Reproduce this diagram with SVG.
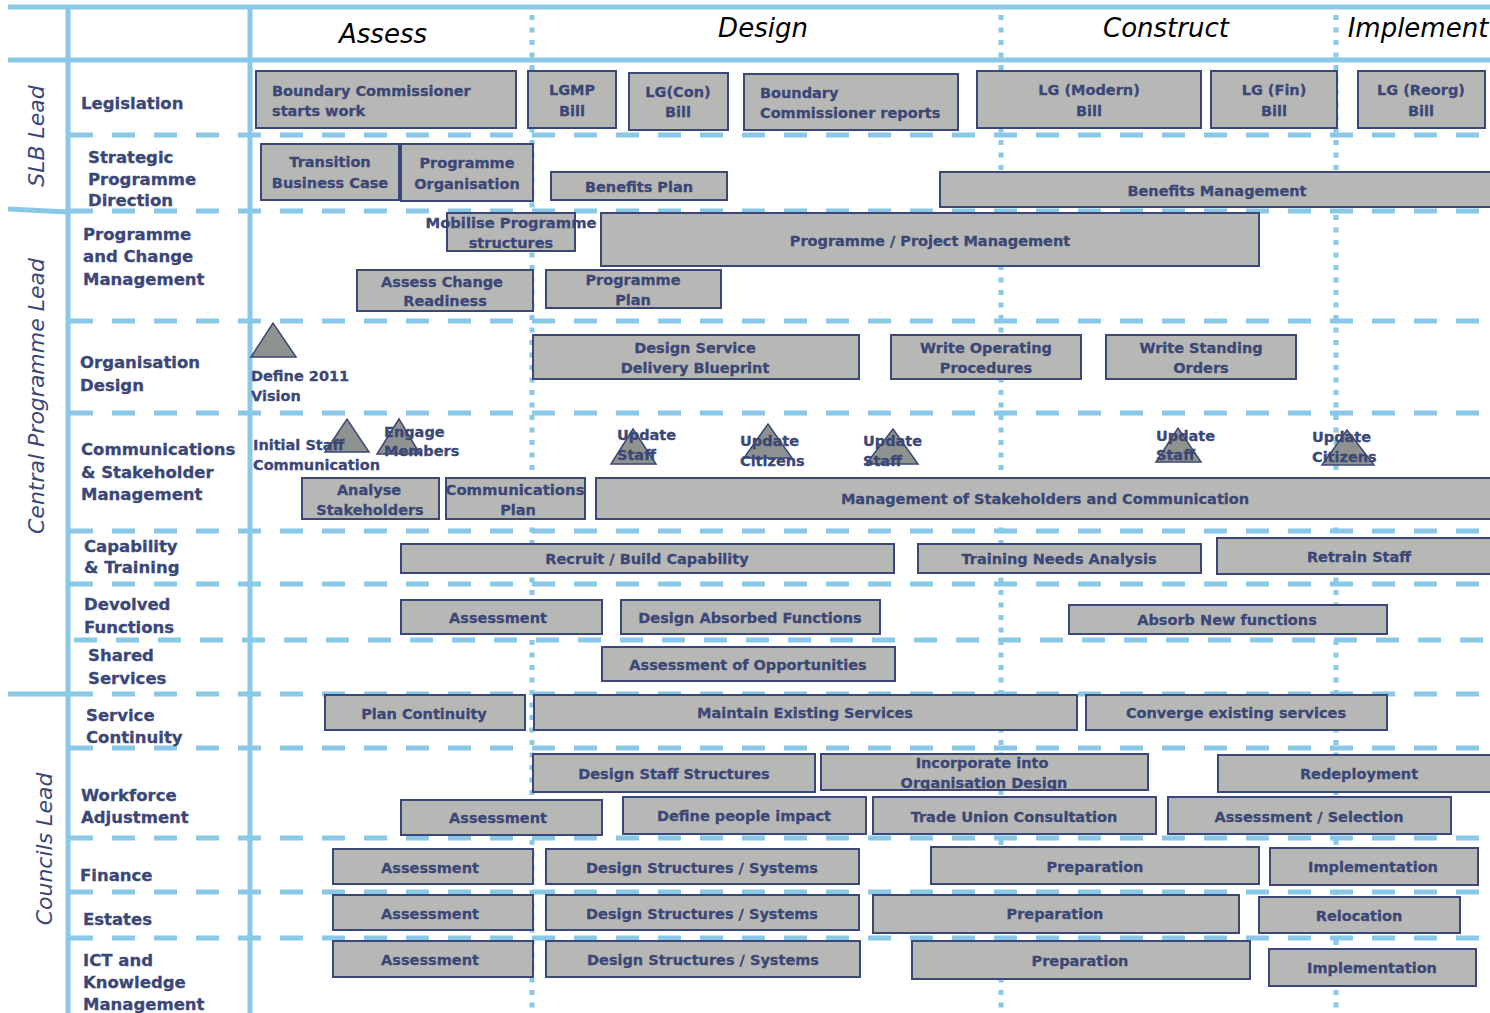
<svg xmlns="http://www.w3.org/2000/svg" width="1490" height="1013" viewBox="0 0 1490 1013">
<style>
  .solid{stroke:#89C8E6;stroke-width:5;fill:none}
  .dash{stroke:#89C8E6;stroke-width:5;fill:none;stroke-dasharray:23 19}
  .dot{stroke:#89C8E6;stroke-width:5;fill:none;stroke-dasharray:5 7.5}
  .box{fill:#B7B8B5;stroke:#3B4777;stroke-width:2}
  .tri{fill:#8F938F;stroke:#3B4777;stroke-width:1.5}
  .bt{font-family:"DejaVu Sans",Verdana,sans-serif;font-weight:bold;font-size:14.5px;fill:#3B4777;stroke:#3B4777;stroke-width:0.3;text-anchor:middle}
  .bl{text-anchor:start}
  .rl{font-family:"DejaVu Sans",Verdana,sans-serif;font-weight:bold;font-size:16.5px;fill:#3B4777;stroke:#3B4777;stroke-width:0.3}
  .ph{font-family:"DejaVu Sans",Verdana,sans-serif;font-style:italic;font-size:26px;fill:#000;text-anchor:middle}
  .gl{font-family:"DejaVu Sans",Verdana,sans-serif;font-style:italic;font-size:22px;fill:#3B4777;text-anchor:middle}
</style>
<rect width="1490" height="1013" fill="#fff"/>

<!-- grid: lanes and phases -->
<g id="grid">
  <line class="dash" x1="70" y1="135" x2="1490" y2="135"/>
  <line class="dash" x1="70" y1="211" x2="1490" y2="211"/>
  <line class="dash" x1="70" y1="321" x2="1490" y2="321"/>
  <line class="dash" x1="70" y1="413" x2="1490" y2="413"/>
  <line class="dash" x1="70" y1="531" x2="1490" y2="531"/>
  <line class="dash" x1="70" y1="584" x2="1490" y2="584"/>
  <line class="dash" x1="74" y1="640" x2="1490" y2="640"/>
  <line class="dash" x1="70" y1="694" x2="1490" y2="694"/>
  <line class="dash" x1="70" y1="748" x2="1490" y2="748"/>
  <line class="dash" x1="70" y1="838" x2="1490" y2="838"/>
  <line class="dash" x1="70" y1="892" x2="1490" y2="892"/>
  <line class="dash" x1="70" y1="938" x2="1490" y2="938"/>
  <line class="dot" x1="532" y1="15" x2="532" y2="1013"/>
  <line class="dot" x1="1001" y1="15" x2="1001" y2="1013"/>
  <line class="dot" x1="1336" y1="15" x2="1336" y2="1013"/>
  <line class="solid" x1="8" y1="7" x2="1490" y2="7"/>
  <line class="solid" x1="8" y1="60" x2="1490" y2="60"/>
  <line class="solid" x1="68" y1="5" x2="68" y2="1013"/>
  <line class="solid" x1="250" y1="5" x2="250" y2="1013"/>
  <line class="solid" x1="8" y1="209" x2="68" y2="212"/>
  <line class="solid" x1="8" y1="694" x2="68" y2="694"/>
</g>

<!-- phase headings -->
<g id="phases">
  <text class="ph" x="383" y="43">Assess</text>
  <text class="ph" x="763" y="37">Design</text>
  <text class="ph" x="1166" y="37">Construct</text>
  <text class="ph" x="1418" y="37">Implement</text>
</g>

<!-- lead groups -->
<g id="leads">
  <text class="gl" transform="translate(44,136) rotate(-90)">SLB Lead</text>
  <text class="gl" transform="translate(44,396) rotate(-90)">Central Programme Lead</text>
  <text class="gl" transform="translate(52,849) rotate(-90)">Councils Lead</text>
</g>

<!-- lane labels -->
<g id="lanes">
  <text class="rl" x="81" y="109">Legislation</text>
  <text class="rl" x="88" y="163">Strategic<tspan x="88" y="185">Programme</tspan><tspan x="88" y="206">Direction</tspan></text>
  <text class="rl" x="83" y="240">Programme<tspan x="83" y="262">and Change</tspan><tspan x="83" y="285">Management</tspan></text>
  <text class="rl" x="80" y="368">Organisation<tspan x="80" y="391">Design</tspan></text>
  <text class="rl" x="81" y="455">Communications<tspan x="81" y="478">&amp; Stakeholder</tspan><tspan x="81" y="500">Management</tspan></text>
  <text class="rl" x="84" y="552">Capability<tspan x="84" y="573">&amp; Training</tspan></text>
  <text class="rl" x="84" y="610">Devolved<tspan x="84" y="633">Functions</tspan></text>
  <text class="rl" x="88" y="661">Shared<tspan x="88" y="684">Services</tspan></text>
  <text class="rl" x="86" y="721">Service<tspan x="86" y="743">Continuity</tspan></text>
  <text class="rl" x="81" y="801">Workforce<tspan x="81" y="823">Adjustment</tspan></text>
  <text class="rl" x="80" y="881">Finance</text>
  <text class="rl" x="83" y="925">Estates</text>
  <text class="rl" x="83" y="966">ICT and<tspan x="83" y="988">Knowledge</tspan><tspan x="83" y="1010">Management</tspan></text>
</g>

<!-- Legislation -->
<g id="n-bc-starts"><rect class="box" x="256" y="71" width="260" height="57"/><text class="bt bl" x="272" y="96">Boundary Commissioner<tspan x="272" y="116">starts work</tspan></text></g>
<g id="n-lgmp"><rect class="box" x="528" y="71" width="88" height="57"/><text class="bt" x="572" y="95">LGMP<tspan x="572" y="116">Bill</tspan></text></g>
<g id="n-lgcon"><rect class="box" x="629" y="73" width="99" height="57"/><text class="bt" x="678" y="97">LG(Con)<tspan x="678" y="117">Bill</tspan></text></g>
<g id="n-bc-reports"><rect class="box" x="744" y="74" width="214" height="56"/><text class="bt bl" x="760" y="98">Boundary<tspan x="760" y="118">Commissioner reports</tspan></text></g>
<g id="n-lgmodern"><rect class="box" x="977" y="71" width="224" height="57"/><text class="bt" x="1089" y="95">LG (Modern)<tspan x="1089" y="116">Bill</tspan></text></g>
<g id="n-lgfin"><rect class="box" x="1211" y="71" width="126" height="57"/><text class="bt" x="1274" y="95">LG (Fin)<tspan x="1274" y="116">Bill</tspan></text></g>
<g id="n-lgreorg"><rect class="box" x="1358" y="71" width="127" height="57"/><text class="bt" x="1421" y="95">LG (Reorg)<tspan x="1421" y="116">Bill</tspan></text></g>

<!-- Strategic Programme Direction -->
<g id="n-tbc"><rect class="box" x="261" y="144" width="138" height="56"/><text class="bt" x="330" y="167">Transition<tspan x="330" y="188">Business Case</tspan></text></g>
<g id="n-porg"><rect class="box" x="401" y="144" width="132" height="57"/><text class="bt" x="467" y="168">Programme<tspan x="467" y="189">Organisation</tspan></text></g>
<g id="n-bplan"><rect class="box" x="551" y="172" width="176" height="28"/><text class="bt" x="639" y="192">Benefits Plan</text></g>
<g id="n-bman"><rect class="box" x="940" y="172" width="552" height="35"/><text class="bt" x="1217" y="196">Benefits Management</text></g>

<!-- Programme and Change Management -->
<g id="n-mobilise"><rect class="box" x="447" y="213" width="128" height="38"/><text class="bt" x="511" y="228" textLength="171" lengthAdjust="spacingAndGlyphs">Mobilise Programme</text><text class="bt" x="511" y="248">structures</text></g>
<g id="n-ppm"><rect class="box" x="601" y="213" width="658" height="53"/><text class="bt" x="930" y="246">Programme / Project Management</text></g>
<g id="n-acr"><rect class="box" x="357" y="270" width="176" height="41"/><text class="bt" x="442" y="287">Assess Change<tspan x="445" y="306">Readiness</tspan></text></g>
<g id="n-pplan"><rect class="box" x="546" y="270" width="175" height="38"/><text class="bt" x="633" y="285">Programme<tspan x="633" y="305">Plan</tspan></text></g>

<!-- Organisation Design -->
<g id="n-vision"><polygon class="tri" points="251,357 296,357 273,323"/><text class="bt bl" x="251" y="381">Define 2011<tspan x="251" y="401">Vision</tspan></text></g>
<g id="n-dsdb"><rect class="box" x="533" y="335" width="326" height="44"/><text class="bt" x="695" y="353">Design Service<tspan x="695" y="373">Delivery Blueprint</tspan></text></g>
<g id="n-wop"><rect class="box" x="891" y="335" width="190" height="44"/><text class="bt" x="986" y="353">Write Operating<tspan x="986" y="373">Procedures</tspan></text></g>
<g id="n-wso"><rect class="box" x="1106" y="335" width="190" height="44"/><text class="bt" x="1201" y="353">Write Standing<tspan x="1201" y="373">Orders</tspan></text></g>

<!-- Communications & Stakeholder Management -->
<g id="n-isc"><polygon class="tri" points="325,452 369,452 347,419"/><text class="bt bl" x="253" y="450">Initial Staff<tspan x="253" y="470">Communication</tspan></text></g>
<g id="n-engage"><polygon class="tri" points="377,454 420,454 399,419"/><text class="bt bl" x="384" y="437">Engage<tspan x="384" y="456">Members</tspan></text></g>
<g id="n-us1"><polygon class="tri" points="611,464 656,464 633,429"/><text class="bt bl" x="617" y="440">Update<tspan x="617" y="460">Staff</tspan></text></g>
<g id="n-uc1"><polygon class="tri" points="744,458 792,458 768,424"/><text class="bt bl" x="740" y="446">Update<tspan x="740" y="466">Citizens</tspan></text></g>
<g id="n-us2"><polygon class="tri" points="866,464 918,464 893,429"/><text class="bt bl" x="863" y="446">Update<tspan x="863" y="466">Staff</tspan></text></g>
<g id="n-us3"><polygon class="tri" points="1156,462 1201,462 1178,428"/><text class="bt bl" x="1156" y="441">Update<tspan x="1156" y="460">Staff</tspan></text></g>
<g id="n-uc2"><polygon class="tri" points="1322,465 1374,465 1347,430"/><text class="bt bl" x="1312" y="442">Update<tspan x="1312" y="462">Citizens</tspan></text></g>
<g id="n-analyse"><rect class="box" x="302" y="478" width="137" height="41"/><text class="bt" x="369" y="495">Analyse<tspan x="370" y="515">Stakeholders</tspan></text></g>
<g id="n-cplan"><rect class="box" x="446" y="478" width="139" height="41"/><text class="bt" x="515" y="495" textLength="139" lengthAdjust="spacingAndGlyphs">Communications</text><text class="bt" x="518" y="515">Plan</text></g>
<g id="n-msc"><rect class="box" x="596" y="478" width="896" height="41"/><text class="bt" x="1045" y="504">Management of Stakeholders and Communication</text></g>

<!-- Capability & Training -->
<g id="n-recruit"><rect class="box" x="401" y="544" width="493" height="29"/><text class="bt" x="647" y="564">Recruit / Build Capability</text></g>
<g id="n-tna"><rect class="box" x="918" y="544" width="283" height="29"/><text class="bt" x="1059" y="564">Training Needs Analysis</text></g>
<g id="n-retrain"><rect class="box" x="1217" y="538" width="275" height="36"/><text class="bt" x="1359" y="562">Retrain Staff</text></g>

<!-- Devolved Functions -->
<g id="n-df-assess"><rect class="box" x="401" y="600" width="201" height="34"/><text class="bt" x="498" y="623">Assessment</text></g>
<g id="n-daf"><rect class="box" x="621" y="600" width="259" height="34"/><text class="bt" x="750" y="623">Design Absorbed Functions</text></g>
<g id="n-anf"><rect class="box" x="1069" y="605" width="318" height="29"/><text class="bt" x="1227" y="625">Absorb New functions</text></g>

<!-- Shared Services -->
<g id="n-aoo"><rect class="box" x="602" y="647" width="293" height="34"/><text class="bt" x="748" y="670">Assessment of Opportunities</text></g>

<!-- Service Continuity -->
<g id="n-pc"><rect class="box" x="325" y="695" width="200" height="35"/><text class="bt" x="424" y="719">Plan Continuity</text></g>
<g id="n-mes"><rect class="box" x="534" y="695" width="543" height="35"/><text class="bt" x="805" y="718">Maintain Existing Services</text></g>
<g id="n-ces"><rect class="box" x="1086" y="695" width="301" height="35"/><text class="bt" x="1236" y="718">Converge existing services</text></g>

<!-- Workforce Adjustment -->
<g id="n-dss"><rect class="box" x="533" y="754" width="282" height="38"/><text class="bt" x="674" y="779">Design Staff Structures</text></g>
<g id="n-iod"><rect class="box" x="821" y="754" width="327" height="36"/><text class="bt" x="982" y="768">Incorporate into<tspan x="984" y="788">Organisation Design</tspan></text></g>
<g id="n-redeploy"><rect class="box" x="1218" y="755" width="274" height="37"/><text class="bt" x="1359" y="779">Redeployment</text></g>
<g id="n-wa-assess"><rect class="box" x="401" y="800" width="201" height="35"/><text class="bt" x="498" y="823">Assessment</text></g>
<g id="n-dpi"><rect class="box" x="623" y="797" width="243" height="37"/><text class="bt" x="744" y="821">Define people impact</text></g>
<g id="n-tuc"><rect class="box" x="873" y="797" width="283" height="37"/><text class="bt" x="1014" y="822">Trade Union Consultation</text></g>
<g id="n-asel"><rect class="box" x="1168" y="797" width="283" height="37"/><text class="bt" x="1309" y="822">Assessment / Selection</text></g>

<!-- Finance -->
<g id="n-fin-assess"><rect class="box" x="333" y="849" width="200" height="35"/><text class="bt" x="430" y="873">Assessment</text></g>
<g id="n-fin-dss"><rect class="box" x="546" y="849" width="313" height="35"/><text class="bt" x="702" y="873">Design Structures / Systems</text></g>
<g id="n-fin-prep"><rect class="box" x="931" y="847" width="328" height="37"/><text class="bt" x="1095" y="872">Preparation</text></g>
<g id="n-fin-impl"><rect class="box" x="1270" y="848" width="208" height="37"/><text class="bt" x="1373" y="872">Implementation</text></g>

<!-- Estates -->
<g id="n-est-assess"><rect class="box" x="333" y="895" width="200" height="35"/><text class="bt" x="430" y="919">Assessment</text></g>
<g id="n-est-dss"><rect class="box" x="546" y="895" width="313" height="35"/><text class="bt" x="702" y="919">Design Structures / Systems</text></g>
<g id="n-est-prep"><rect class="box" x="873" y="895" width="366" height="38"/><text class="bt" x="1055" y="919">Preparation</text></g>
<g id="n-est-reloc"><rect class="box" x="1259" y="897" width="201" height="36"/><text class="bt" x="1359" y="921">Relocation</text></g>

<!-- ICT and Knowledge Management -->
<g id="n-ict-assess"><rect class="box" x="333" y="941" width="200" height="36"/><text class="bt" x="430" y="965">Assessment</text></g>
<g id="n-ict-dss"><rect class="box" x="546" y="941" width="314" height="36"/><text class="bt" x="703" y="965">Design Structures / Systems</text></g>
<g id="n-ict-prep"><rect class="box" x="912" y="941" width="338" height="38"/><text class="bt" x="1080" y="966">Preparation</text></g>
<g id="n-ict-impl"><rect class="box" x="1269" y="949" width="207" height="37"/><text class="bt" x="1372" y="973">Implementation</text></g>

<g id="connectors"></g>
</svg>
